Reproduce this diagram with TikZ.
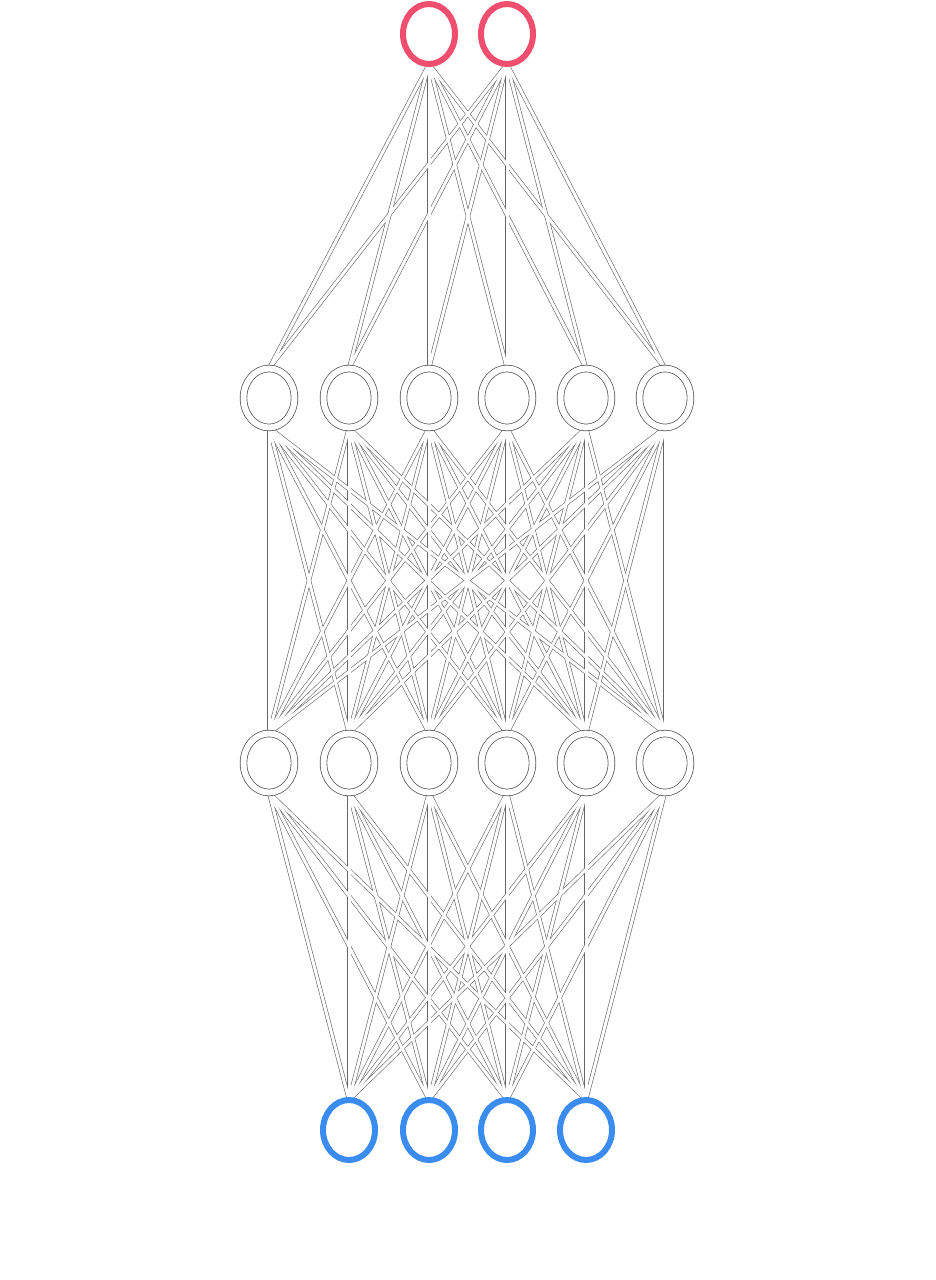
\documentclass[tikz,border=0pt]{standalone}
\usetikzlibrary{shapes.geometric}
\pgfdeclarelayer{bg}
\pgfsetlayers{bg,main}
\definecolor{outred}{RGB}{240,78,110}
\definecolor{inblue}{RGB}{58,140,240}
\begin{document}
\begin{tikzpicture}[x=1pt,y=-1pt,
  neuron/.style={ellipse,inner sep=0pt,outer sep=0pt,minimum width=51pt,minimum height=59pt},
  outnode/.style={neuron,draw=outred,line width=6pt,fill=white,minimum width=52pt,minimum height=60pt},
  innode/.style={neuron,draw=inblue,line width=6pt,fill=white,minimum width=52pt,minimum height=60pt},
  hidnode/.style={neuron,draw=black!70,line width=0.7pt,double=white,double distance=6pt,fill=white},
  linkedge/.style={draw=black!60,line width=4.2pt},
  linkcore/.style={draw=white,line width=3pt}]
\useasboundingbox (0,0) rectangle (936,1280);
% output layer
\node[outnode] (o1) at (429,34) {};
\node[outnode] (o2) at (507,34) {};
% hidden layers
\foreach \i/\x in {1/269,2/349,3/429,4/507,5/586,6/665}{
  \node[hidnode] (a\i) at (\x,398) {};
  \node[hidnode] (b\i) at (\x,763) {};
}
% input layer
\foreach \i/\x in {1/349,2/429,3/507,4/586}{
  \node[innode] (c\i) at (\x,1130) {};
}
\begin{pgfonlayer}{bg}
\fill[white] (0,0) rectangle (936,1280);
\foreach \s in {linkedge,linkcore}{
  \foreach \j in {1,...,6}{
    \foreach \i in {1,2}{ \draw[\s] (o\i.south) -- (a\j.north); }
    \foreach \k in {1,...,6}{ \draw[\s] (a\j.south) -- (b\k.north); }
    \foreach \k in {1,...,4}{ \draw[\s] (b\j.south) -- (c\k.north); }
  }
}
\end{pgfonlayer}
\end{tikzpicture}
\end{document}
